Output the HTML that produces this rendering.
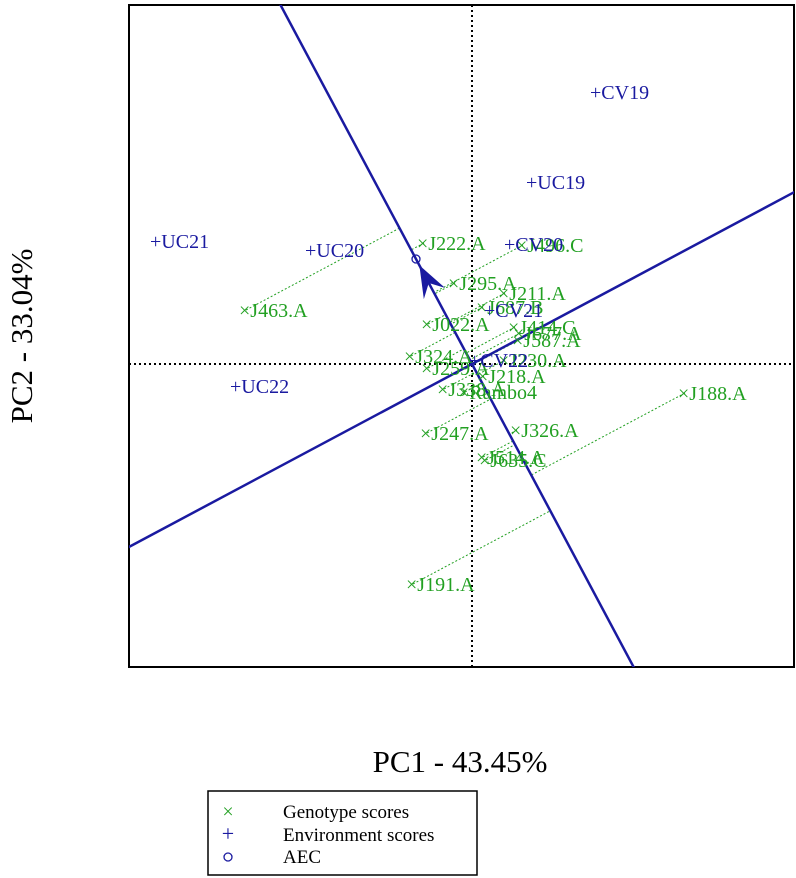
<!DOCTYPE html>
<html><head><meta charset="utf-8"><style>
html,body{margin:0;padding:0;background:#fff;width:796px;height:878px;overflow:hidden;}
svg{display:block;font-family:"Liberation Serif",serif;}
</style></head><body>
<svg id="chart" width="796" height="878" xmlns="http://www.w3.org/2000/svg">
<rect x="129" y="5" width="665" height="662" fill="none" stroke="#000" stroke-width="2"/>
<g id="marks"></g>
<text x="460" y="772" font-size="31" text-anchor="middle">PC1 - 43.45%</text>
<text transform="translate(32,336) rotate(-90)" font-size="31" text-anchor="middle">PC2 - 33.04%</text>
<g>
<rect x="208" y="791" width="269" height="84" fill="#fff" stroke="#000" stroke-width="1.5"/>
<text x="228" y="818" font-size="20" fill="#22a022" text-anchor="middle">×</text>
<text x="283" y="818" font-size="19">Genotype scores</text>
<text x="228" y="841" font-size="22" fill="#1a1aa0" text-anchor="middle">+</text>
<text x="283" y="841" font-size="19">Environment scores</text>
<circle cx="228" cy="857" r="4" fill="none" stroke="#1a1aa0" stroke-width="1.3"/>
<text x="283" y="863" font-size="19">AEC</text>
</g>
</svg>
<script>
const genNames = ["J222.A","J496.C","J463.A","J295.A","J211.A","J687.B","J022.A","J414.C","J677.A","J587.A","J324.A","J230.A","J259.A","J218.A","J338.A","Rambo4","J188.A","J247.A","J326.A","J514.A","J635.C","J191.A"];
const genX = [-0.48,0.51,-2.26,-0.17,0.33,0.11,-0.44,0.43,0.48,0.47,-0.61,0.33,-0.44,0.12,-0.28,-0.07,2.13,-0.45,0.45,0.11,0.14,-0.59];
const genY = [1.21,1.19,0.54,0.81,0.71,0.57,0.40,0.37,0.31,0.24,0.08,0.04,-0.04,-0.12,-0.25,-0.28,-0.29,-0.69,-0.66,-0.93,-0.96,-2.20];
const envNames = ["CV19","UC19","UC21","UC20","CV20","CV21","CV22","UC22"];
const envX = [1.26,0.62,-3.14,-1.59,0.40,0.20,0.05,-2.34];
const envY = [2.72,1.82,1.23,1.14,1.20,0.54,0.04,-0.22];
const aecX = -0.56, aecY = 1.05;

const sx = v => 472 + v*100;
const sy = v => 364 - v*100;
const NS="http://www.w3.org/2000/svg";
const g = document.getElementById('marks');
function mk(tag, attrs){const e=document.createElementNS(NS,tag);for(const k in attrs)e.setAttribute(k,attrs[k]);g.appendChild(e);return e;}

let e;
e=mk('line',{x1:sx(0),y1:5,x2:sx(0),y2:667,stroke:'#000','stroke-width':2,'stroke-dasharray':'2,3'});


e=mk('line',{x1:129,y1:sy(0),x2:794,y2:sy(0),stroke:'#000','stroke-width':2,'stroke-dasharray':'2,3'});



const L = Math.hypot(aecX,aecY), ux=aecX/L, uy=aecY/L;
genNames.forEach((n,i)=>{
  const t = genX[i]*ux+genY[i]*uy;
  const px=t*ux, py=t*uy;
  const l=mk('line',{x1:sx(genX[i]),y1:sy(genY[i]),x2:sx(px),y2:sy(py),stroke:'#22a022','stroke-width':1,'stroke-dasharray':'2,2'});
  
  
});
const clip=document.createElementNS(NS,'clipPath');clip.setAttribute('id','pc');
const cr=document.createElementNS(NS,'rect');cr.setAttribute('x',129);cr.setAttribute('y',5);cr.setAttribute('width',665);cr.setAttribute('height',662);clip.appendChild(cr);g.appendChild(clip);
e=mk('line',{x1:sx(ux*10),y1:sy(uy*10),x2:sx(-ux*10),y2:sy(-uy*10),stroke:'#1a1aa0','stroke-width':2.5,'clip-path':'url(#pc)'});


e=mk('line',{x1:sx(uy*10),y1:sy(-ux*10),x2:sx(-uy*10),y2:sy(ux*10),stroke:'#1a1aa0','stroke-width':2.5,'clip-path':'url(#pc)'});


const tipT=L*0.94, tx=sx(ux*tipT), ty=sy(uy*tipT);
const bx=sx(ux*(tipT-0.32)), by=sy(uy*(tipT-0.32));
const pxd=uy*100*0.12, pyd=ux*100*0.12;
e=mk('polygon',{points:`${tx},${ty} ${bx+pxd},${by+pyd} ${sx(ux*(tipT-0.2))},${sy(uy*(tipT-0.2))} ${bx-pxd},${by-pyd}`,fill:'#1a1aa0'});


e=mk('circle',{cx:sx(aecX),cy:sy(aecY),r:4,fill:'none',stroke:'#1a1aa0','stroke-width':1.3});



genNames.forEach((n,i)=>{
  const t=mk('text',{x:sx(genX[i])-7,y:sy(genY[i])+7,'font-size':20,fill:'#22a022'});
  t.textContent='×'+n;
  
  
});
envNames.forEach((n,i)=>{
  const t=mk('text',{x:sx(envX[i])-8,y:sy(envY[i])+7,'font-size':20,fill:'#1a1aa0'});
  t.textContent='+'+n;
  
  
});
</script>
</body></html>
